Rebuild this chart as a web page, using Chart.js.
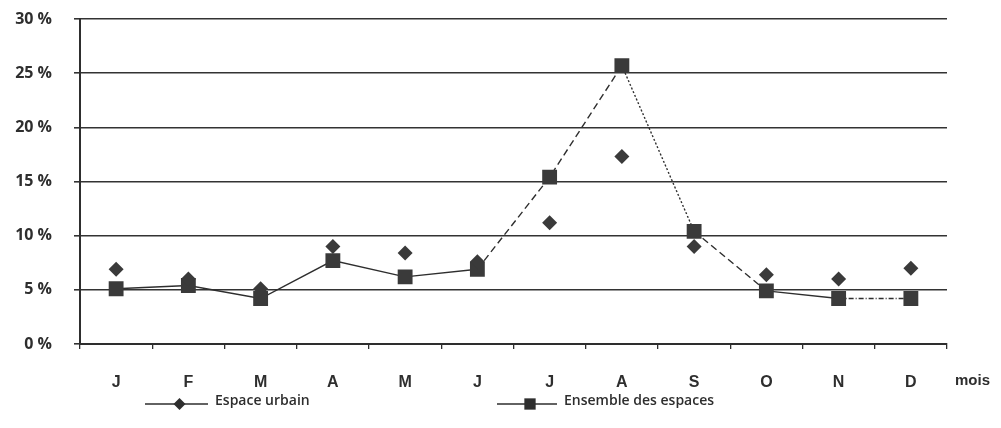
<!DOCTYPE html>
<html>
<head>
<meta charset="utf-8">
<script src="https://cdn.jsdelivr.net/npm/chart.js@4/dist/chart.umd.min.js"></script>
<style>
  html, body { margin: 0; padding: 0; background: #fff; }
  #wrap { width: 1001px; height: 428px; position: relative; }
</style>
</head>
<body>
<div id="wrap"><canvas id="chart" width="1001" height="428"></canvas></div>
<script>
// Données
const mois = ['J', 'F', 'M', 'A', 'M', 'J', 'J', 'A', 'S', 'O', 'N', 'D'];
const espaceUrbain = [6.9, 6.0, 5.1, 9.0, 8.4, 7.6, 11.2, 17.3, 9.0, 6.4, 6.0, 7.0];
const ensembleEspaces = [5.1, 5.4, 4.2, 7.7, 6.2, 6.9, 15.4, 25.7, 10.4, 4.9, 4.2, 4.2];
const yTicks = [0, 5, 10, 15, 20, 25, 30];
const legendLabels = ['Espace urbain', 'Ensemble des espaces'];

const ink = '#2e2e2e';

// Style des traits entre les mois (plein, tirets, pointillés)
function dashFor(i) {
    if (i === 5 || i === 6 || i === 8) return [7, 4];
    if (i === 7) return [2, 2];
    if (i === 10) return [5, 2, 1, 2];
    return [];
}

// Légende et "mois" dessinés à la main
const decorPlugin = {
    id: 'decor',
    afterDraw(chart) {
        const ctx = chart.ctx;
        const area = chart.chartArea;
        ctx.save();
        ctx.fillStyle = ink;
        ctx.font = 'bold 15px "Liberation Sans", Arial, sans-serif';
        ctx.textBaseline = 'middle';
        ctx.textAlign = 'left';
        ctx.fillText('mois', area.right + 8, 381);

        const items = [
            { x0: 145, x1: 208, label: legendLabels[0], style: 'rectRot', r: 6 },
            { x0: 497, x1: 557, label: legendLabels[1], style: 'rect', r: 8 }
        ];
        const y = 404;
        items.forEach(it => {
            ctx.strokeStyle = ink;
            ctx.lineWidth = 1.3;
            ctx.setLineDash([]);
            ctx.beginPath();
            ctx.moveTo(it.x0, y);
            ctx.lineTo(it.x1, y);
            ctx.stroke();
            ctx.fillStyle = ink;
            Chart.helpers.drawPoint(ctx, { pointStyle: it.style, radius: it.r, rotation: 0, borderWidth: 0 }, (it.x0 + it.x1) / 2 + 3, y);
            ctx.font = '600 14px "Open Sans", sans-serif';
            ctx.fillText(it.label, it.x1 + 7, y - 3);
        });
        ctx.restore();
    }
};

new Chart(document.getElementById('chart'), {
    type: 'line',
    data: {
        labels: mois,
        datasets: [
            {
                label: legendLabels[0],
                data: espaceUrbain,
                showLine: false,
                pointStyle: 'rectRot',
                pointRadius: 7.5,
                pointBackgroundColor: '#3a3a3a',
                pointBorderWidth: 0,
                borderColor: ink
            },
            {
                label: legendLabels[1],
                data: ensembleEspaces,
                borderColor: ink,
                borderWidth: 1.4,
                tension: 0,
                pointStyle: 'rect',
                pointRadius: 10.5,
                pointBackgroundColor: '#3a3a3a',
                pointBorderWidth: 0,
                segment: {
                    borderDash: c => dashFor(c.p0DataIndex)
                }
            }
        ]
    },
    options: {
        responsive: false,
        animation: false,
        devicePixelRatio: 1,
        layout: { padding: { top: 19, right: 54, bottom: 0, left: 0 } },
        plugins: {
            legend: { display: false },
            tooltip: { enabled: false }
        },
        scales: {
            x: {
                offset: true,
                grid: {
                    offset: true,
                    drawOnChartArea: false,
                    color: ink,
                    tickLength: 5,
                    lineWidth: 1.3
                },
                border: { color: ink, width: 2 },
                ticks: {
                    color: ink,
                    padding: 24,
                    font: { family: '"Liberation Sans", Arial, sans-serif', size: 16, weight: 'bold' }
                },
                afterFit: s => { s.height = 84; s.paddingTop = 0; s.paddingBottom = 0; }
            },
            y: {
                min: 0,
                max: 30,
                afterBuildTicks: s => { s.ticks = yTicks.map(v => ({ value: v })); },
                grid: {
                    color: '#333',
                    lineWidth: 1.6,
                    tickLength: 6
                },
                border: { color: ink, width: 2 },
                ticks: {
                    color: ink,
                    padding: 22,
                    font: { family: '"Open Sans", sans-serif', size: 16, weight: 'bold' },
                    callback: v => v + ' %'
                },
                afterFit: s => { s.width = 80; s.paddingTop = 0; s.paddingBottom = 0; }
            }
        }
    },
    plugins: [decorPlugin]
});
</script>
</body>
</html>
